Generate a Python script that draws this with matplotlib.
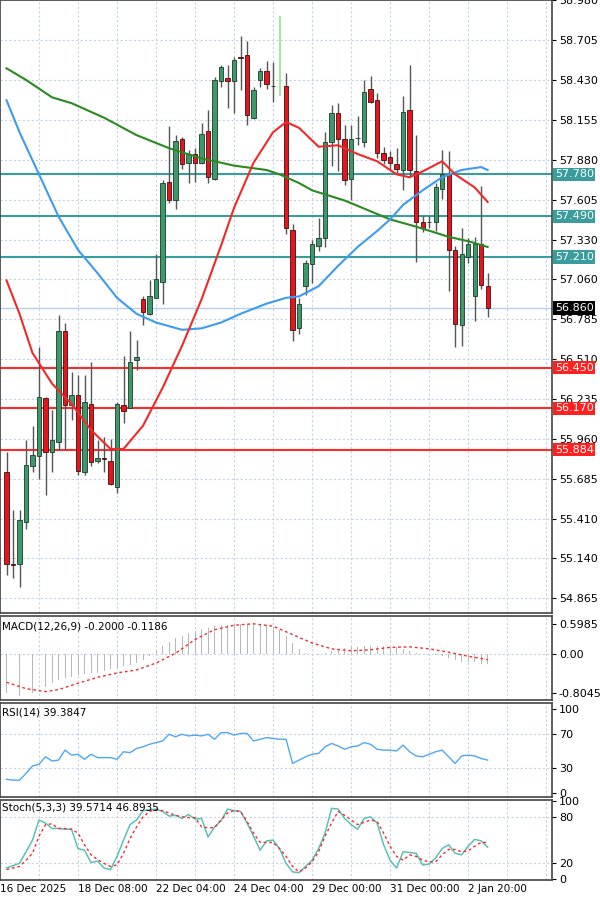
import numpy as np
import matplotlib.pyplot as plt
import matplotlib.transforms as mtransforms

# OHLC per candle (index 42 is the empty slot with the green marker line)
opens = [55.73, 55.10, 55.10, 55.39, 55.77, 55.84, 56.24, 55.87, 55.94, 56.70,
         56.19, 56.26, 55.73, 56.20, 55.81, 55.83, 55.81, 55.63, 56.19, 56.17,
         56.50, 56.92, 56.82, 56.93, 57.04, 57.73, 57.60, 58.02, 57.86, 57.92,
         57.86, 58.08, 57.75, 58.42, 58.44, 58.42, 58.59, 58.60, 58.17, 58.43,
         58.49, 58.39, np.nan, 58.39, 57.40, 56.72, 57.01, 57.16, 57.29, 57.34,
         58.00, 58.20, 58.02, 57.75, 58.03, 58.00, 58.37, 58.29, 57.93, 57.90,
         57.85, 57.81, 58.22, 57.80, 57.45, 57.45, 57.45, 57.68, 57.78, 57.26,
         56.74, 57.21, 56.94, 57.30, 57.01]
highs = [55.87, 55.47, 55.47, 55.95, 56.05, 56.59, 56.25, 56.16, 56.81, 56.76,
         56.42, 56.40, 56.40, 56.49, 55.95, 55.97, 55.96, 56.21, 56.53, 56.70,
         56.64, 56.94, 57.05, 57.23, 57.74, 58.11, 58.05, 58.04, 57.95, 57.96,
         58.13, 58.22, 58.45, 58.53, 58.53, 58.59, 58.73, 58.70, 58.38, 58.51,
         58.56, 58.55, np.nan, 58.48, 57.44, 56.93, 57.19, 57.33, 57.48, 58.07,
         58.26, 58.27, 58.12, 58.12, 58.18, 58.43, 58.46, 58.34, 57.97, 57.94,
         57.96, 58.32, 58.53, 58.05, 57.49, 57.49, 57.72, 57.95, 57.94, 57.29,
         57.41, 57.34, 57.35, 57.70, 57.10]
lows = [55.02, 55.00, 54.94, 55.34, 55.73, 55.68, 55.57, 55.73, 55.88, 55.88,
        56.09, 55.71, 55.71, 55.77, 55.79, 55.73, 55.64, 55.59, 56.07, 56.17,
        56.43, 56.74, 56.81, 56.93, 56.89, 57.58, 57.54, 57.82, 57.72, 57.73,
        57.85, 57.72, 57.74, 58.38, 58.24, 58.20, 58.36, 58.12, 58.16, 58.38,
        58.37, 58.28, np.nan, 57.37, 56.63, 56.68, 56.95, 57.03, 57.25, 57.28,
        57.84, 57.80, 57.71, 57.60, 57.98, 57.97, 58.27, 57.89, 57.85, 57.82,
        57.78, 57.67, 57.77, 57.18, 57.38, 57.41, 57.39, 57.61, 56.98, 56.59,
        56.60, 57.17, 56.77, 56.99, 56.80]
closes = [55.10, 55.09, 55.40, 55.78, 55.85, 56.25, 55.87, 55.95, 56.70, 56.19,
          56.26, 55.74, 56.21, 55.80, 55.83, 55.82, 55.65, 56.20, 56.15, 56.49,
          56.52, 56.83, 56.94, 57.06, 57.72, 57.60, 58.01, 57.85, 57.92, 57.86,
          58.06, 57.76, 58.43, 58.52, 58.42, 58.57, 58.58, 58.19, 58.36, 58.49,
          58.40, 58.39, np.nan, 57.41, 56.71, 56.89, 57.17, 57.30, 57.34, 58.00,
          58.20, 58.02, 57.74, 58.02, 58.03, 58.35, 58.28, 57.93, 57.88, 57.86,
          57.82, 58.21, 57.81, 57.45, 57.41, 57.45, 57.69, 57.78, 57.26, 56.75,
          57.23, 57.30, 57.30, 57.02, 56.86]

marker_idx, marker_lo, marker_hi = 42, 58.32, 58.87

# moving averages read at selected candles
red_ma_x = [0, 2, 4, 7, 10, 13, 16, 18, 21, 24, 27, 30, 33, 35, 38, 41, 43, 45,
            48, 51, 54, 57, 60, 62, 64, 67, 69, 72, 74]
red_ma = [57.05, 56.82, 56.55, 56.34, 56.20, 56.02, 55.89, 55.89, 56.05, 56.31,
          56.60, 56.92, 57.29, 57.55, 57.86, 58.07, 58.14, 58.10, 57.97, 57.98,
          57.92, 57.87, 57.78, 57.76, 57.80, 57.87, 57.78, 57.69, 57.59]
blue_ma_x = [0, 2, 5, 8, 11, 14, 17, 20, 23, 27, 30, 33, 36, 40, 43, 45, 48, 51,
             54, 57, 59, 61, 64, 67, 70, 73, 74]
blue_ma = [58.29, 58.07, 57.78, 57.49, 57.26, 57.10, 56.93, 56.82, 56.76, 56.71,
           56.72, 56.76, 56.82, 56.89, 56.93, 56.94, 57.01, 57.15, 57.28, 57.39,
           57.47, 57.57, 57.67, 57.76, 57.81, 57.83, 57.81]
green_ma_x = [0, 3, 7, 10, 15, 20, 25, 30, 35, 40, 42, 45, 47, 52, 59, 63, 68, 71, 74]
green_ma = [58.51, 58.43, 58.31, 58.27, 58.17, 58.05, 57.96, 57.89, 57.84, 57.81,
            57.78, 57.72, 57.67, 57.60, 57.47, 57.42, 57.35, 57.32, 57.28]

resist = [57.780, 57.490, 57.210]
support = [56.450, 56.170, 55.884]
last_price = 56.860
price_ticks = [58.980, 58.705, 58.430, 58.155, 57.880, 57.605, 57.330, 57.060,
               56.785, 56.510, 56.235, 55.960, 55.685, 55.410, 55.140, 54.865]

macd_hist = [-0.80, -0.82, -0.85, -0.86, -0.80, -0.73, -0.68, -0.60, -0.53, -0.50,
             -0.47, -0.44, -0.42, -0.40, -0.39, -0.36, -0.32, -0.29, -0.25, -0.22,
             -0.19, -0.12, -0.05, 0.05, 0.15, 0.24, 0.32, 0.37, 0.42, 0.46,
             0.50, 0.53, 0.56, 0.58, 0.59, 0.60, 0.61, 0.61, 0.60, 0.59,
             0.59, 0.55, 0.49, 0.36, 0.22, 0.10, 0.01, -0.01, -0.02, 0.02,
             0.05, 0.09, 0.12, 0.13, 0.14, 0.15, 0.16, 0.16, 0.15, 0.14,
             0.13, 0.09, 0.05, 0.02, 0.00, -0.01, -0.02, -0.05, -0.09, -0.12,
             -0.16, -0.17, -0.17, -0.20, -0.20]
macd_sig_x = [0, 3, 6, 8, 11, 14, 17, 20, 23, 26, 29, 32, 35, 38, 41, 44, 47, 50,
              53, 56, 59, 62, 65, 68, 71, 74]
macd_sig = [-0.58, -0.71, -0.77, -0.73, -0.60, -0.48, -0.39, -0.33, -0.19, 0.01,
            0.29, 0.49, 0.58, 0.61, 0.56, 0.39, 0.22, 0.10, 0.06, 0.08, 0.13, 0.14,
            0.10, 0.03, -0.05, -0.12]

rsi = [16, 15, 15, 23, 32, 34, 43, 38, 39, 51, 45, 46, 40, 46, 42, 42, 42, 40, 49, 48,
       53, 55, 58, 60, 62, 70, 67, 70, 68, 69, 68, 70, 64, 72, 72, 69, 71, 71, 62, 64,
       66, 65, 64, 64, 35, 39, 43, 46, 47, 55, 59, 56, 52, 55, 56, 60, 58, 52, 51, 51,
       50, 57, 49, 44, 43, 46, 49, 51, 43, 35, 44, 45, 44, 41, 39]

stoch_k = [14, 17, 20, 35, 50, 76, 72, 65, 65, 64, 64, 39, 37, 21, 23, 14, 12, 29, 50, 70,
           76, 88, 89, 90, 87, 81, 82, 78, 83, 77, 78, 54, 67, 75, 90, 88, 87, 72, 55, 37,
           49, 50, 39, 20, 9, 8, 16, 24, 39, 59, 91, 90, 78, 70, 64, 78, 80, 72, 44, 24,
           14, 35, 34, 33, 18, 19, 27, 39, 44, 33, 31, 42, 51, 49, 41]
stoch_d = [12, 14, 16, 24, 33, 55, 70, 71, 65, 65, 64, 59, 44, 31, 25, 20, 16, 18, 33, 52,
           67, 80, 87, 89, 88, 85, 82, 80, 79, 79, 67, 66, 66, 76, 85, 88, 87, 74, 59, 47,
           47, 47, 39, 29, 16, 9, 14, 22, 35, 55, 72, 87, 82, 76, 70, 73, 76, 74, 59, 42,
           29, 24, 31, 29, 24, 22, 22, 31, 38, 38, 35, 36, 42, 47, 47]

date_pos = [-1, 11, 23, 35, 47, 59, 71]
date_labels = ['16 Dec 2025', '18 Dec 08:00', '22 Dec 04:00', '24 Dec 04:00',
               '29 Dec 00:00', '31 Dec 00:00', '2 Jan 20:00']

GRID = '#c5d3e2'
UP, DOWN = '#3c9a6a', '#e8141c'
TEAL = '#3a9c9c'

fig = plt.figure(figsize=(6, 8.99), dpi=100)
W = 552 / 600
ax = fig.add_axes([0, 0.318, W, 0.682])
ax_m = fig.add_axes([0, 0.2214, W, 0.0934], sharex=ax)
ax_r = fig.add_axes([0, 0.1135, W, 0.1046], sharex=ax)
ax_s = fig.add_axes([0, 0.0211, W, 0.089], sharex=ax)

x = np.arange(len(opens))
o, h, l, c = map(np.array, (opens, highs, lows, closes))
up = c >= o

for a in (ax, ax_m, ax_r, ax_s):
    a.yaxis.tick_right()
    a.tick_params(axis='y', labelsize=8, length=3, pad=2)
    a.tick_params(axis='x', length=0)
    for s in a.spines.values():
        s.set_color('#444444')
        s.set_linewidth(1.2)
    for g in range(-1, 84, 6):
        a.axvline(g, color=GRID, lw=0.8, ls=(0, (2, 2)), zorder=0)
    if a is not ax_s:
        plt.setp(a.get_xticklabels(), visible=False)

# price panel
for p in price_ticks:
    ax.axhline(p, color=GRID, lw=0.8, ls=(0, (2, 2)), zorder=0)
ax.axhline(last_price, color='#b5cfee', lw=1, zorder=1)
for p in resist:
    ax.axhline(p, color=TEAL, lw=1.5, zorder=2)
for p in support:
    ax.axhline(p, color='#ff2a2a', lw=1.5, zorder=2)

ax.vlines(x, l, h, color='#555555', lw=1, zorder=3)
ax.bar(x[up], c[up] - o[up], bottom=o[up], width=0.65, color=UP,
       edgecolor='#1e3a2a', lw=0.6, zorder=4)
ax.bar(x[~up], o[~up] - c[~up], bottom=c[~up], width=0.65, color=DOWN,
       edgecolor='#3a1010', lw=0.6, zorder=4)
ax.vlines([marker_idx], [marker_lo], [marker_hi], color='#8ee68e', lw=1.2, zorder=3)

ax.plot(green_ma_x, green_ma, color='#2a8a20', lw=1.5, zorder=5)
ax.plot(blue_ma_x, blue_ma, color='#3d9bf0', lw=1.5, zorder=5)
ax.plot(red_ma_x, red_ma, color='#f02a2a', lw=1.5, zorder=5)

ax.set_ylim(54.76, 58.968)
ax.set_xlim(-0.61, 83.9)
ax.set_yticks(price_ticks)
ax.set_yticklabels([f'{p:.3f}' for p in price_ticks])

tr = mtransforms.blended_transform_factory(ax.transAxes, ax.transData)
for p in resist:
    ax.text(1.005, p, f'{p:.3f}', transform=tr, va='center', ha='left', fontsize=8,
            color='white', bbox=dict(boxstyle='square,pad=0.15', fc=TEAL, ec='none'),
            zorder=10, clip_on=False)
for p in support:
    ax.text(1.005, p, f'{p:.3f}', transform=tr, va='center', ha='left', fontsize=8,
            color='white', bbox=dict(boxstyle='square,pad=0.15', fc='#ff2020', ec='none'),
            zorder=10, clip_on=False)
ax.text(1.005, last_price, f'{last_price:.3f}', transform=tr, va='center', ha='left',
        fontsize=8, color='white', bbox=dict(boxstyle='square,pad=0.15', fc='black', ec='none'),
        zorder=10, clip_on=False)

# MACD
ax_m.axhline(0, color=GRID, lw=0.8, ls=(0, (2, 2)), zorder=0)
ax_m.bar(x, macd_hist, width=0.15, color='#b8b8b8', zorder=2)
ax_m.plot(macd_sig_x, macd_sig, color='#f03030', lw=1, ls=(0, (2, 2)), zorder=3)
ax_m.set_ylim(-0.94, 0.768)
ax_m.set_yticks([0.5985, 0.0, -0.8045])
ax_m.set_yticklabels(['0.5985', '0.00', '-0.8045'])
ax_m.text(0.003, 0.93, 'MACD(12,26,9) -0.2000 -0.1186', transform=ax_m.transAxes,
          fontsize=7.5, va='top', ha='left')

# RSI
for lv in (70, 30):
    ax_r.axhline(lv, color=GRID, lw=0.8, ls=(0, (2, 2)), zorder=0)
ax_r.plot(x, rsi, color='#4ea8f5', lw=1)
ax_r.set_ylim(-5.2, 107.6)
ax_r.set_yticks([100, 70, 30, 0])
ax_r.text(0.003, 0.95, 'RSI(14) 39.3847', transform=ax_r.transAxes,
          fontsize=7.5, va='top', ha='left')

# Stochastic
for lv in (80, 20):
    ax_s.axhline(lv, color=GRID, lw=0.8, ls=(0, (2, 2)), zorder=0)
ax_s.plot(x, stoch_k, color='#5cc0b8', lw=1.1)
ax_s.plot(x, stoch_d, color='#f03030', lw=1, ls=(0, (2, 2)))
ax_s.set_ylim(-1.5, 101.7)
ax_s.set_yticks([100, 80, 20, 0])
ax_s.text(0.003, 0.97, 'Stoch(5,3,3) 39.5714 46.8935', transform=ax_s.transAxes,
          fontsize=7.5, va='top', ha='left')

ax_s.set_xticks(date_pos)
ax_s.set_xticklabels(date_labels, fontsize=7.5, ha='left')
ax_s.tick_params(axis='x', pad=3)

fig.savefig('out.png', dpi=100)
